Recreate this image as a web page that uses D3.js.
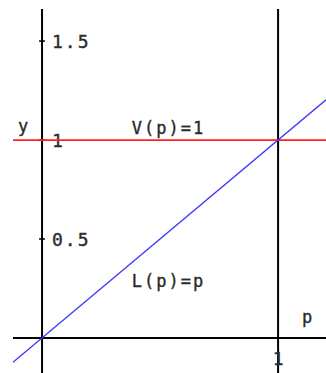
<!DOCTYPE html>
<html>
<head>
<meta charset="utf-8">
<script src="https://cdn.jsdelivr.net/npm/d3@7"></script>
<style>
  html, body { margin: 0; padding: 0; background: #fff; }
  svg { display: block; }
  text { font-family: "DejaVu Sans Mono", monospace; fill: #2a2a2a; stroke: #2a2a2a; stroke-width: 0.35; }
</style>
</head>
<body>
<script>
// Plot window in data units
const pDomain = [-0.123, 1.203];
const yDomain = [-0.177, 1.662];

// Tick values
const yTicks = [0.5, 1, 1.5];
const yTickLabels = ["0.5", "1", "1.5"];
const xTicks = [1];
const xTickLabels = ["1"];

// Curves: V(p) = 1 (constant) and L(p) = p (identity)
const curveNames = ["V(p)=1", "L(p)=p"];
const curveColors = ["#ff2020", "#3a3aff"];
const curveFns = [p => 1, p => p];
// Label anchor positions (in data units) for each curve
const labelP = [0.38, 0.38];
const labelY = [1.03, 0.26];

const W = 326, H = 373;
const x = d3.scaleLinear().domain(pDomain).range([13, 326]);
const y = d3.scaleLinear().domain(yDomain).range([373, 9]);

const svg = d3.select("body").append("svg").attr("width", W).attr("height", H);

// Axes lines
svg.append("line")
  .attr("x1", x(0)).attr("x2", x(0))
  .attr("y1", y(yDomain[1])).attr("y2", y(yDomain[0]))
  .attr("stroke", "#000").attr("stroke-width", 2);
svg.append("line")
  .attr("x1", x(pDomain[0])).attr("x2", x(pDomain[1]))
  .attr("y1", y(0)).attr("y2", y(0))
  .attr("stroke", "#000").attr("stroke-width", 2);
// Vertical line at p = 1
svg.append("line")
  .attr("x1", x(1)).attr("x2", x(1))
  .attr("y1", y(yDomain[1])).attr("y2", y(yDomain[0]))
  .attr("stroke", "#000").attr("stroke-width", 2);

// y ticks and labels
yTicks.forEach((t, i) => {
  svg.append("line")
    .attr("x1", x(0) - 3).attr("x2", x(0) + 3)
    .attr("y1", y(t)).attr("y2", y(t))
    .attr("stroke", "#000").attr("stroke-width", 1.5);
  svg.append("text")
    .attr("x", x(0) + 10).attr("y", y(t) + 7)
    .attr("font-size", 18).attr("letter-spacing", 2)
    .text(yTickLabels[i]);
});

// Curves
const samples = [pDomain[0], pDomain[1]];
curveFns.forEach((f, i) => {
  const line = d3.line().x(p => x(p)).y(p => y(f(p)));
  svg.append("path")
    .attr("d", line(samples))
    .attr("fill", "none")
    .attr("stroke", curveColors[i])
    .attr("stroke-width", i === 0 ? 1.8 : 1.3);
});

// x tick labels
xTicks.forEach((t, i) => {
  svg.append("text")
    .attr("x", x(t)).attr("y", y(0) + 27)
    .attr("text-anchor", "middle")
    .attr("font-size", 18)
    .text(xTickLabels[i]);
});

// Curve labels
curveNames.forEach((n, i) => {
  svg.append("text")
    .attr("x", x(labelP[i])).attr("y", y(labelY[i]))
    .attr("font-size", 17).attr("letter-spacing", 2)
    .text(n);
});

// Axis names
svg.append("text").attr("x", 18).attr("y", 132).attr("font-size", 17).text("y");
svg.append("text").attr("x", 302).attr("y", 323).attr("font-size", 17).text("p");
</script>
</body>
</html>
